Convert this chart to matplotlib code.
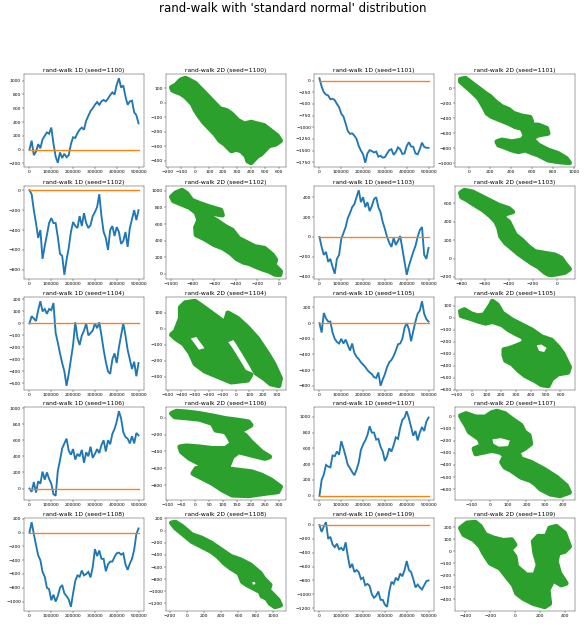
import numpy as np
import matplotlib
matplotlib.use("Agg")
import matplotlib.pyplot as plt

# ---------------- 1D random walks (value every 10000 steps) ----------------
steps = np.arange(0, 500001, 10000)

walk1d_1100 = [0, 130, -80, -30, 80, 20, 150, 200, 250, 230, 320, 90, -100, -190, -40, -120, -60, -110, -80, 80,
               180, 170, 240, 290, 320, 290, 420, 490, 560, 600, 650, 690, 650, 700, 720, 700, 740, 790, 830, 800,
               940, 1035, 900, 930, 770, 650, 700, 710, 540, 500, 380]
walk1d_1101 = [50, -130, -250, -300, -320, -400, -390, -420, -500, -570, -710, -770, -920, -1080, -1140, -1130, -1180,
               -1250, -1400, -1500, -1580, -1760, -1560, -1490, -1510, -1540, -1520, -1630, -1610, -1650, -1640, -1560,
               -1490, -1470, -1590, -1530, -1430, -1470, -1570, -1560, -1400, -1320, -1410, -1420, -1560, -1580, -1470,
               -1330, -1420, -1440, -1440]
walk1d_1102 = [0, -40, -200, -330, -480, -400, -690, -560, -450, -330, -280, -330, -330, -470, -640, -660, -850, -700,
               -580, -420, -320, -360, -380, -260, -360, -230, -330, -380, -350, -260, -220, -170, -40, -260, -420,
               -480, -600, -400, -360, -460, -370, -420, -540, -510, -420, -570, -380, -290, -200, -300, -200]
walk1d_1103 = [0, -100, -180, -150, -250, -220, -300, -370, -220, -180, -20, 40, 100, 190, 240, 300, 330, 400, 470,
               350, 400, 300, 350, 260, 310, 380, 400, 300, 250, 150, 80, 0, -60, -100, -10, -80, -40, 10, -120, -250,
               -380, -290, -220, -150, -90, 0, 70, 100, -180, -220, -110]
walk1d_1104 = [0, 60, 40, 20, 110, 185, 100, 120, 80, 120, 110, 170, -80, -160, -250, -330, -400, -520, -420, -300,
               -180, 10, -120, -180, -100, -60, 0, -100, -80, -60, 0, -40, 10, -100, -220, -320, -400, -420, -300, -250,
               -330, -200, -100, 0, -100, -220, -300, -380, -320, -440, -330]
walk1d_1105 = [0, -120, 130, 60, 20, 20, -120, -200, -240, -260, -200, -260, -210, -280, -350, -260, -380, -430, -460,
               -500, -530, -560, -600, -630, -650, -690, -700, -630, -800, -720, -650, -560, -500, -470, -420, -350,
               -270, -260, -200, -60, 0, -80, -230, -100, 20, 120, 160, 280, 120, 50, 20]
walk1d_1106 = [0, -40, 80, -50, 90, 60, 210, 110, 200, 120, 60, -70, -90, 220, 350, 500, 560, 620, 470, 420, 490, 360,
               430, 400, 480, 320, 450, 400, 520, 380, 430, 490, 440, 540, 600, 460, 600, 550, 680, 740, 830, 960, 870,
               700, 640, 620, 560, 650, 560, 690, 660]
walk1d_1107 = [0, 200, 270, 390, 370, 360, 510, 500, 560, 520, 690, 600, 500, 390, 350, 300, 260, 330, 420, 580, 650,
               700, 770, 880, 800, 800, 710, 720, 620, 560, 440, 500, 600, 560, 640, 740, 720, 860, 960, 990, 1070, 980,
               870, 760, 820, 700, 800, 870, 820, 940, 990]
walk1d_1108 = [0, 150, -20, -180, -330, -400, -570, -640, -800, -820, -980, -900, -1000, -920, -800, -760, -880, -920,
               -970, -1075, -880, -700, -620, -640, -550, -620, -600, -570, -650, -500, -240, -340, -260, -380, -380,
               -560, -460, -420, -420, -350, -300, -290, -320, -300, -460, -540, -450, -380, -250, -20, 60]
walk1d_1109 = [0, -100, -20, 40, -200, -170, -280, -320, -270, -350, -330, -370, -250, -450, -620, -560, -680, -650,
               -680, -780, -760, -870, -850, -880, -1000, -1050, -1020, -960, -1080, -1080, -1150, -1180, -960, -820,
               -850, -760, -800, -700, -740, -650, -520, -650, -680, -780, -900, -860, -900, -930, -870, -810, -800]

# ---------------- 2D random walks (outline of the visited region) ----------------
walk2d_1100_x = [-172, -141, -106, -71, -35, 0, 35, 59, 94, 141, 176, 224, 259, 306, 353, 400, 447, 494, 541, 588, 612,
                 576, 529, 494, 471, 447, 424, 400, 376, 365, 329, 294, 259, 235, 212, 176, 141, 94, 59, 24, 0, -24,
                 -47, -71, -106, -141, -165]
walk2d_1100_y = [105, 121, 156, 168, 151, 133, 98, 75, 40, -7, -42, -54, -77, -123, -147, -135, -147, -158, -193, -228,
                 -263, -287, -298, -333, -356, -368, -391, -415, -403, -368, -333, -322, -333, -310, -287, -263, -217,
                 -170, -135, -89, -54, -7, 16, 40, 63, 75, 86]

walk2d_1101_x = [-85, -38, 25, 89, 152, 199, 247, 310, 373, 421, 500, 579, 595, 547, 658, 737, 750, 658, 595, 658, 750,
                 845, 924, 955, 845, 750, 658, 595, 532, 468, 405, 342, 278, 262, 310, 405, 500, 532, 516, 500, 437,
                 373, 294, 215, 168, 136, 89, 25, -38, -85]
walk2d_1101_y = [120, 134, 67, 0, -67, -111, -178, -245, -281, -334, -370, -388, -446, -491, -491, -535, -602, -624,
                 -669, -758, -825, -870, -937, -995, -981, -959, -892, -861, -825, -847, -825, -789, -758, -714, -691,
                 -714, -691, -637, -580, -535, -513, -468, -424, -379, -334, -245, -134, -45, 31, 89]

walk2d_1102_x = [-999, -960, -900, -855, -810, -735, -645, -540, -525, -615, -675, -585, -495, -435, -375, -285, -225,
                 -135, -60, -30, -45, -15, 15, 9, -40, -90, -150, -210, -270, -330, -390, -450, -520, -600, -690, -770,
                 -775, -745, -770, -830, -905, -980]
walk2d_1102_y = [928, 976, 1008, 968, 888, 848, 808, 768, 708, 728, 708, 648, 568, 528, 428, 368, 328, 308, 228, 168,
                 108, 68, 28, -12, -5, 30, 55, 85, 120, 140, 180, 250, 310, 350, 420, 470, 560, 648, 740, 800, 840, 880]

walk2d_1103_x = [-805, -772, -704, -649, -566, -484, -401, -368, -415, -456, -401, -374, -346, -292, -237, -182, -99,
                 -16, 38, 66, 107, 66, 11, -44, -72, -99, -154, -209, -264, -319, -374, -429, -470, -485, -510, -550,
                 -615, -685, -750, -795]
walk2d_1103_y = [710, 739, 721, 685, 631, 577, 541, 505, 488, 452, 398, 326, 255, 200, 129, 75, 57, 39, 4, -50, -115,
                 -151, -165, -176, -170, -150, -90, -50, 0, 50, 110, 170, 240, 330, 400, 455, 525, 580, 635, 665]

walk2d_1104a_x = [-472, -443, -407, -407, -371, -299, -251, -178, -106, -34, 14, -34, -84, -36, 13, 61, 111, 87, -34,
                  -130, -227, -299, -335, -383, -443]
walk2d_1104a_y = [-36, -14, 66, 134, 164, 173, 145, 100, 55, 9, -36, -59, -75, -132, -200, -268, -286, -320, -332,
                  -298, -264, -218, -150, -93, -59]
walk2d_1104b_x = [-58, 14, 87, 159, 231, 279, 328, 316, 255, 207, 147, 111, 63, 14, -34, -82]
walk2d_1104b_y = [100, 66, 9, -59, -150, -218, -309, -355, -343, -309, -275, -218, -150, -82, -25, 32]
hole2d_1104_x = [-330, -290, -230, -270]
hole2d_1104_y = [-60, -50, -120, -130]

walk2d_1105_x = [-76, -49, -4, 40, 84, 129, 140, 173, 207, 273, 340, 407, 473, 540, 584, 618, 662, 651, 584, 540, 518,
                 473, 429, 362, 318, 273, 229, 218, 218, 251, 284, 340, 362, 340, 295, 251, 207, 140, 96, 51, -16, -71]
walk2d_1105_y = [54, 68, 34, 17, 25, 110, 138, 110, 39, -17, -59, -101, -158, -186, -242, -299, -411, -454, -468,
                 -510, -566, -558, -524, -482, -439, -383, -355, -313, -265, -256, -242, -214, -186, -158, -130, -101,
                 -59, -31, -45, -31, -3, 17]
hole2d_1105_x = [440, 470, 507, 490, 455]
hole2d_1105_y = [-230, -222, -250, -285, -275]

walk2d_1106_x = [-85, -67, -32, 15, 62, 109, 156, 192, 201, 180, 156, 180, 201, 239, 268, 251, 203, 156, 133, 121, 109,
                 156, 203, 239, 274, 307, 298, 251, 192, 133, 98, 62, 27, -8, 4, 39, 15, -20, -49, -55, -32, 15, 62,
                 109, 133, 121, 109, 74, 62, 15, -32, -73]
walk2d_1106_y = [52, 79, 71, 52, 24, -8, -28, -48, -87, -127, -166, -206, -285, -404, -463, -483, -444, -404, -463,
                 -562, -602, -622, -641, -681, -740, -820, -879, -899, -927, -919, -859, -780, -721, -661, -602, -582,
                 -542, -483, -404, -345, -333, -345, -364, -364, -305, -226, -166, -146, -67, -16, 0, 12]

walk2d_1107_x = [-159, -129, -76, -23, 12, 39, 83, 118, 171, 189, 215, 224, 189, 153, 171, 224, 294, 365, 418, 435, 383,
                 330, 277, 250, 224, 171, 118, 83, 65, 83, 56, 12, -32, -76, -85, -41, -58, -111, -129, -146]
walk2d_1107_y = [3, 22, -6, -6, 30, 41, 22, -19, -74, -129, -157, -226, -267, -295, -350, -377, -433, -501, -570, -625,
                 -653, -639, -598, -557, -529, -501, -446, -419, -377, -322, -295, -281, -295, -309, -267, -240, -185,
                 -129, -74, -33]
hole2d_1107_x = [15, 60, 110, 100, 50, 20]
hole2d_1107_y = [-190, -180, -200, -245, -250, -225]

walk2d_1108_x = [-179, -133, -57, 57, 171, 285, 399, 513, 627, 741, 855, 893, 969, 950, 1064, 1091, 1026, 969, 931, 874,
                 855, 779, 703, 646, 608, 513, 437, 361, 285, 171, 57, -38, -133]
walk2d_1108_y = [127, 138, 72, -66, -122, -204, -315, -425, -481, -564, -702, -785, -895, -978, -1144, -1227, -1254,
                 -1199, -1116, -1077, -1006, -950, -895, -840, -702, -619, -536, -425, -343, -260, -177, -66, 44]
hole2d_1108_x = [760, 790, 800, 770]
hole2d_1108_y = [-850, -845, -880, -890]

walk2d_1109_x = [-440, -387, -320, -280, -240, -173, -93, -27, 0, -40, 0, 13, 93, 160, 187, 160, 147, 187, 253, 280,
                 333, 400, 440, 400, 347, 333, 360, 413, 373, 307, 267, 280, 240, 147, 67, 13, -13, -67, -120, -200,
                 -253, -280, -333, -413]
walk2d_1109_y = [192, 234, 240, 206, 137, 109, 89, 95, 53, 11, -45, -128, -198, -198, -114, -17, 81, 123, 123, 192, 206,
                 150, 39, -3, -17, -86, -184, -267, -281, -240, -323, -435, -462, -435, -393, -351, -281, -212, -142,
                 -100, -17, 39, 95, 137]

seeds = [1100, 1101, 1102, 1103, 1104, 1105, 1106, 1107, 1108, 1109]
walks1d = {1100: walk1d_1100, 1101: walk1d_1101, 1102: walk1d_1102, 1103: walk1d_1103, 1104: walk1d_1104,
           1105: walk1d_1105, 1106: walk1d_1106, 1107: walk1d_1107, 1108: walk1d_1108, 1109: walk1d_1109}
walks2d = {
    1100: ([(walk2d_1100_x, walk2d_1100_y)], []),
    1101: ([(walk2d_1101_x, walk2d_1101_y)], []),
    1102: ([(walk2d_1102_x, walk2d_1102_y)], []),
    1103: ([(walk2d_1103_x, walk2d_1103_y)], []),
    1104: ([(walk2d_1104a_x, walk2d_1104a_y), (walk2d_1104b_x, walk2d_1104b_y)], [(hole2d_1104_x, hole2d_1104_y)]),
    1105: ([(walk2d_1105_x, walk2d_1105_y)], [(hole2d_1105_x, hole2d_1105_y)]),
    1106: ([(walk2d_1106_x, walk2d_1106_y)], []),
    1107: ([(walk2d_1107_x, walk2d_1107_y)], [(hole2d_1107_x, hole2d_1107_y)]),
    1108: ([(walk2d_1108_x, walk2d_1108_y)], [(hole2d_1108_x, hole2d_1108_y)]),
    1109: ([(walk2d_1109_x, walk2d_1109_y)], []),
}

# ---------------- figure ----------------
W, H, DPI = 586, 625, 32
fig = plt.figure(figsize=(W / DPI, H / DPI), dpi=DPI)
fig.suptitle("rand-walk with 'standard normal' distribution", fontsize=26.5, y=1 - 8.5 / H, va="center")

lefts_px = [24, 166, 314, 455]
tops_px = [74, 186, 297, 407, 518]
AW, AH = 120, 93

BLUE, ORANGE, GREEN = "#1f77b4", "#ff7f0e", "#2ca02c"

for i, seed in enumerate(seeds):
    r, c = divmod(i, 2)
    col1d, col2d = 2 * c, 2 * c + 1
    # 1D
    ax = fig.add_axes([lefts_px[col1d] / W, 1 - (tops_px[r] + AH) / H, AW / W, AH / H])
    ax.plot(steps, walks1d[seed], color=BLUE, lw=4.2, solid_joinstyle="miter")
    ax.plot([steps[0], steps[-1]], [0, 0], color=ORANGE, lw=3)
    ax.set_title(f"rand-walk 1D (seed={seed})", fontsize=13.5, pad=4)
    ax.tick_params(labelsize=10)
    # 2D
    ax2 = fig.add_axes([lefts_px[col2d] / W, 1 - (tops_px[r] + AH) / H, AW / W, AH / H])
    shapes, holes = walks2d[seed]
    for xs, ys in shapes:
        ax2.fill(xs, ys, color=GREEN, lw=11, joinstyle="round")
    for xs, ys in holes:
        ax2.fill(xs, ys, color="white", lw=0)
    ax2.set_title(f"rand-walk 2D (seed={seed})", fontsize=13.5, pad=4)
    ax2.tick_params(labelsize=10)

fig.savefig("out.png", dpi=DPI)
